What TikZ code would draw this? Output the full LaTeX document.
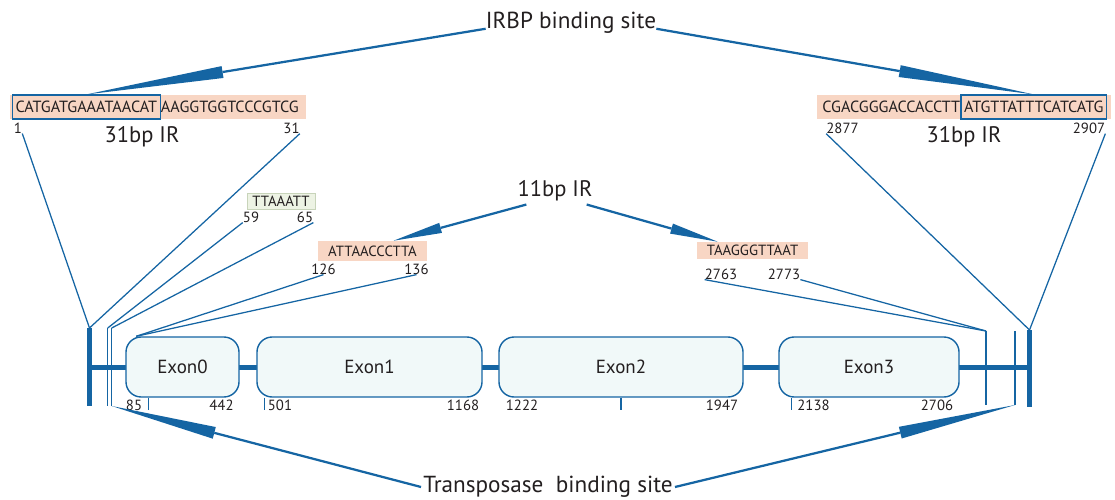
\documentclass[tikz,border=0pt]{standalone}
\usepackage{fontspec}
\setmainfont{PT Sans}
\usetikzlibrary{arrows.meta, calc}
\definecolor{ibblue}{RGB}{21,101,163}
\definecolor{seqpink}{RGB}{248,214,196}
\definecolor{motifgreen}{RGB}{237,243,228}
\definecolor{motifedge}{RGB}{200,212,186}
\definecolor{exonfill}{RGB}{241,249,249}
\definecolor{inkgray}{RGB}{35,31,32}

\begin{document}
\begin{tikzpicture}[x=0.025cm, y=-0.025cm,
    every node/.style={text=inkgray, inner sep=0pt},
    sitelabel/.style={font=\fontsize{16.5}{18}\selectfont},
    seqback/.style={fill=seqpink, minimum height=0.6cm},
    seqtext/.style={font=\fontsize{11.5}{12}\selectfont},
    sitebox/.style={seqtext, draw=ibblue, line width=0.8pt, minimum height=0.6cm, inner xsep=0.075cm},
    motif/.style={fill=seqpink, font=\fontsize{10.5}{12}\selectfont},
    num/.style={font=\fontsize{10.5}{12}\selectfont},
    irtext/.style={font=\fontsize{16}{17}\selectfont},
    exon/.style={draw=ibblue, line width=1pt, fill=exonfill, rounded corners=0.38cm,
        minimum height=1.5cm, font=\fontsize{13.5}{15}\selectfont},
    link/.style={ibblue, line width=0.9pt},
    tick/.style={ibblue, line width=0.8pt},
    bar/.style={ibblue, line width=3.6pt},
    pin/.style={ibblue, line width=1pt},
    wedge/.style={ibblue, line width=1.6pt, -{Triangle[length=#1, width=0.3cm, line width=0pt]}},
    smallwedge/.style={ibblue, line width=1.6pt, -{Triangle[length=#1, width=0.26cm, line width=0pt]}}]
\useasboundingbox (0,0) rectangle (1115,499);

\coordinate (lbartop) at (89.5,328);  \coordinate (lbarbot) at (89.5,406);
\coordinate (lpinAtop) at (107.7,328); \coordinate (lpinAbot) at (107.7,406);
\coordinate (lpinBtop) at (111.7,328); \coordinate (lpinBbot) at (111.7,406);
\coordinate (rpinAtop) at (986,331);  \coordinate (rpinAbot) at (986,405);
\coordinate (rpinBtop) at (1015,331); \coordinate (rpinBbot) at (1015,405);
\coordinate (rbartop) at (1029.5,330); \coordinate (rbarbot) at (1029.5,407);
\coordinate (lmid) at (89.5,367.5);   \coordinate (rmid) at (1029.5,367.5);

\draw[bar] (lmid) -- (rmid);
\draw[bar] (lbartop) -- (lbarbot);
\draw[bar] (rbartop) -- (rbarbot);
\draw[pin] (lpinAtop) -- (lpinAbot);
\draw[pin] (lpinBtop) -- (lpinBbot);
\draw[pin] (rpinAtop) -- (rpinAbot);
\draw[pin] (rpinBtop) -- (rpinBbot);

\node[exon, minimum width=2.825cm] (exon0) at (182.5,367) {Exon0};
\node[exon, minimum width=5.625cm] (exon1) at (369.5,367) {Exon1};
\node[exon, minimum width=6.1cm] (exon2) at (621,367) {Exon2};
\node[exon, minimum width=4.5cm] (exon3) at (869,367) {Exon3};

\draw[tick] ($(exon0.south west)+(23,0)$) -- ++(0,12);
\draw[tick] ($(exon1.south west)+(8,0)$) -- ++(0,12);
\draw[tick] (exon2.south) -- ++(0,12);
\draw[tick] ($(exon3.south west)+(13,0)$) -- ++(0,12);
\node[num] (p85) at (134,405) {85};
\node[num] (p442) at (221.5,405) {442};
\node[num] (p501) at (280,405) {501};
\node[num] (p1168) at (463,405) {1168};
\node[num] (p1222) at (522,405) {1222};
\node[num] (p1947) at (722,405) {1947};
\node[num] (p2138) at (813.5,405) {2138};
\node[num] (p2706) at (937,405) {2706};

\node[sitelabel] (irbp) at (571,23) {IRBP binding site};
\node[seqback, minimum width=7.4cm] (lseq) at (158,107) {};
\node[sitebox, anchor=west] (lsite) at (12,107) {CATGATGAAATAACAT};
\node[seqtext, anchor=base west] (lrest) at (lsite.base east) {AAGGTGGTCCCGTCG};
\node[seqback, minimum width=7.35cm] (rseq) at (964,107) {};
\node[sitebox, anchor=east] (rsite) at (1107,107) {ATGTTATTTCATCATG};
\node[seqtext, anchor=base east] (rrest) at (rsite.base west) {CGACGGGACCACCTT};
\draw[wedge=3.45cm] (irbp.base west) -- (lsite.north);
\draw[wedge=3.4cm] (irbp.base east) -- (rsite.north);

\node[num] (n1) at (18,128) {1};
\node[num] (n31) at (291.5,128) {31};
\node[irtext] (lir) at (142,137) {31bp IR};
\node[num] (n2877) at (842.5,128) {2877};
\node[num] (n2907) at (1089,128) {2907};
\node[irtext] (rir) at (964,137) {31bp IR};
\draw[link] (n1.south east) -- (lbartop);
\draw[link] (n31.south east) -- (lbartop);
\draw[link] (n2877.south west) -- (rbartop);
\draw[link] (n2907.south east) -- (rbartop);

\node[motif, fill=motifgreen, draw=motifedge, line width=0.6pt,
    minimum width=1.7cm, minimum height=0.4cm] (tta) at (281,201) {TTAAATT};
\node[num] (n59) at (251,217) {59};
\node[num] (n65) at (305,217) {65};
\draw[link] (n59.south west) -- (lpinAtop);
\draw[link] (n65.south east) -- (lpinBtop);

\node[irtext] (ir11) at (555,191) {11bp IR};
\node[motif, minimum width=2.725cm, minimum height=0.5cm] (atta) at (372.5,251) {ATTAACCCTTA};
\node[num] (n126) at (323.5,269) {126};
\node[num] (n136) at (416.5,269) {136};
\coordinate (e0corner) at ($(exon0.north west)+(11,0)$);
\draw[link] (n126.south) -- (e0corner);
\draw[link] (n136.south) -- (e0corner);
\node[motif, minimum width=2.775cm, minimum height=0.425cm] (taag) at (752.5,250.5) {TAAGGGTTAAT};
\node[num] (n2763) at (721,274) {2763};
\node[num] (n2773) at (784,274) {2773};
\draw[link] (n2763.south west) -- (rpinAtop);
\draw[link] (n2773.south east) -- (rpinAtop);
\draw[smallwedge=1.22cm] ($(ir11.south west)+(9,3)$) -- ($(atta.north)+(21,0)$);
\draw[smallwedge=1.2cm] ($(ir11.south east)+(-6,3)$) -- ($(taag.north west)+(21,0)$);

\node[sitelabel] (tbs) at (548,487) {Transposase\ \ binding site};
\draw[wedge=2.65cm] ($(tbs.west)+(-2,0)$) -- (lpinBbot);
\draw[wedge=2.95cm] ($(tbs.east)+(2,0)$) -- (rpinBbot);
\end{tikzpicture}
\end{document}
